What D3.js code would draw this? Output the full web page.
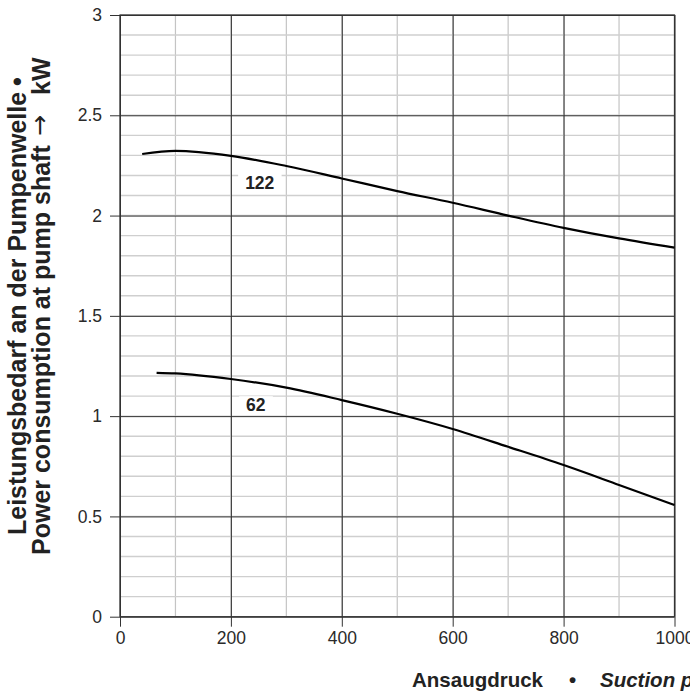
<!DOCTYPE html>
<meta charset="utf-8">
<script src="https://d3js.org/d3.v7.min.js"></script>
<style>
  body { margin: 0; background: #fff; }
  text { font-family: "Liberation Sans", Arial, Helvetica, sans-serif; }
</style>
<body>
<div id="chart"></div>
<script>

// curve data
var x122 = [40, 100, 200, 300, 400, 500, 600, 700, 800, 900, 1000];
var y122 = [2.307, 2.323, 2.298, 2.247, 2.185, 2.122, 2.064, 2.0, 1.939, 1.886, 1.84];
var x62 = [66, 100, 200, 300, 400, 500, 600, 700, 800, 900, 1000];
var y62 = [1.216, 1.213, 1.185, 1.142, 1.080, 1.012, 0.936, 0.847, 0.756, 0.657, 0.557];

var seriesNames = ["122", "62"];
// label anchor in data units
var labelX = [252, 245];
var labelY = [2.165, 1.055];

var xTicks = [0, 200, 400, 600, 800, 1000];
var yTicks = [0, 0.5, 1, 1.5, 2, 2.5, 3];
var xMinor = d3.range(0, 1001, 100);
var yMinor = d3.range(0, 31).map(function (i) { return i / 10; });

var W = 690, H = 693;
var pLeft = 120, pRight = 674.5, pTop = 15, pBottom = 616.7;

var svg = d3.select("#chart").append("svg")
    .attr("width", W)
    .attr("height", H);

var x = d3.scaleLinear().domain([0, 1000]).range([pLeft, pRight]);
var y = d3.scaleLinear().domain([0, 3]).range([pBottom, pTop]);

// minor grid
svg.append("g").selectAll("line")
    .data(xMinor)
    .enter().append("line")
    .attr("x1", function (d) { return x(d); })
    .attr("x2", function (d) { return x(d); })
    .attr("y1", pTop).attr("y2", pBottom)
    .attr("stroke", "#c4c4c4").attr("stroke-width", 1.2);

svg.append("g").selectAll("line")
    .data(yMinor)
    .enter().append("line")
    .attr("y1", function (d) { return y(d); })
    .attr("y2", function (d) { return y(d); })
    .attr("x1", pLeft).attr("x2", pRight)
    .attr("stroke", "#cfcfcf").attr("stroke-width", 1.4);

// major grid + axes
svg.append("g")
    .attr("transform", "translate(0," + pBottom + ")")
    .call(d3.axisBottom(x).tickValues(xTicks).tickSize(10).tickPadding(5)
        .tickFormat(function (d) { return String(d); }))
    .call(function (g) {
        g.select(".domain").remove();
        g.selectAll(".tick line").clone()
            .attr("y2", pTop - pBottom).attr("stroke", "#4a4a4a");
        g.selectAll(".tick line").attr("stroke", "#333");
        g.selectAll("text").attr("font-size", 17.5).attr("fill", "#2a2a2a")
            .attr("font-family", "Liberation Sans, Arial, sans-serif");
    });

svg.append("g")
    .attr("transform", "translate(" + pLeft + ",0)")
    .call(d3.axisLeft(y).tickValues(yTicks).tickSize(10).tickPadding(8)
        .tickFormat(function (d) { return String(d); }))
    .call(function (g) {
        g.select(".domain").remove();
        g.selectAll(".tick line").clone()
            .attr("x2", pRight - pLeft).attr("stroke", "#3a3a3a");
        g.selectAll(".tick line").attr("stroke", "#333");
        g.selectAll("text").attr("font-size", 17.5).attr("fill", "#2a2a2a")
            .attr("font-family", "Liberation Sans, Arial, sans-serif");
    });

// frame
svg.append("rect")
    .attr("x", pLeft).attr("y", pTop)
    .attr("width", pRight - pLeft).attr("height", pBottom - pTop)
    .attr("fill", "none").attr("stroke", "#333").attr("stroke-width", 1.2);

// curves
var line = d3.line()
    .x(function (d) { return x(d[0]); })
    .y(function (d) { return y(d[1]); })
    .curve(d3.curveMonotoneX);

var curves = [d3.zip(x122, y122), d3.zip(x62, y62)];

svg.append("g").selectAll("path")
    .data(curves)
    .enter().append("path")
    .attr("d", line)
    .attr("fill", "none")
    .attr("stroke", "#000")
    .attr("stroke-width", 2.2);

// curve labels with white box behind
seriesNames.forEach(function (name, i) {
    var g = svg.append("g");
    var t = g.append("text")
        .attr("x", x(labelX[i]))
        .attr("y", y(labelY[i]))
        .attr("text-anchor", "middle")
        .attr("dy", "0.35em")
        .attr("font-size", 17.5)
        .attr("font-weight", "bold")
        .attr("fill", "#222")
        .text(name);
    var b = t.node().getBBox();
    g.insert("rect", "text")
        .attr("x", b.x - 7).attr("y", b.y + 1)
        .attr("width", b.width + 14).attr("height", b.height - 2)
        .attr("fill", "#fff");
});

// y axis title (two rotated lines), x along text = distance from start
var yt1 = svg.append("text")
    .attr("transform", "translate(26,535) rotate(-90)")
    .attr("font-size", 25).attr("font-weight", "bold").attr("fill", "#222");
yt1.append("tspan").text("Leistungsbedarf an der Pumpenwelle");
yt1.append("tspan").attr("x", 449).text("•");

var yt2 = svg.append("text")
    .attr("transform", "translate(50,555) rotate(-90)")
    .attr("font-size", 25).attr("font-weight", "bold").attr("fill", "#222");
yt2.append("tspan").text("Power consumption at pump shaft");
yt2.append("tspan").attr("x", 419).attr("font-weight", "normal")
    .attr("font-family", "DejaVu Sans").attr("font-size", 25).attr("dy", -2).text("→");
yt2.append("tspan").attr("x", 460).attr("dy", 2).text("kW");

// x axis title
var xt = svg.append("text")
    .attr("x", 412).attr("y", 687)
    .attr("font-size", 20.5).attr("font-weight", "bold").attr("fill", "#222");
xt.append("tspan").text("Ansaugdruck");
xt.append("tspan").attr("x", 569).text("•");
xt.append("tspan").attr("x", 600).attr("font-style", "italic").text("Suction pressure");

</script>
</body>
